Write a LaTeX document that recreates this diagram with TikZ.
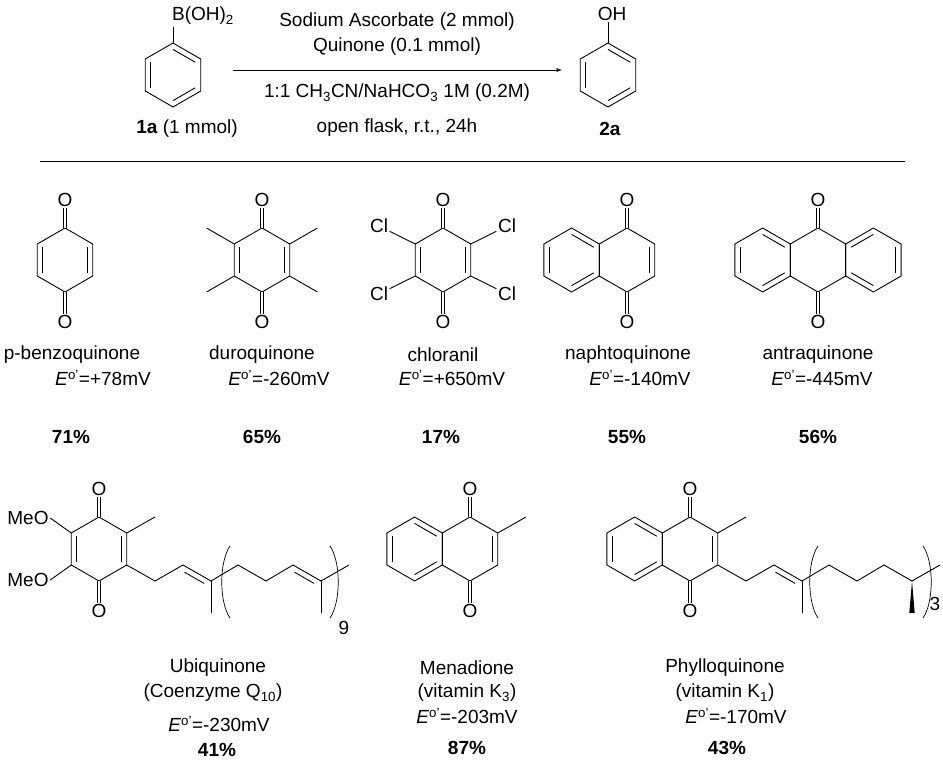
\documentclass[tikz,border=0pt]{standalone}
\usepackage{fontspec}
\setmainfont{Liberation Sans}
\usetikzlibrary{calc}
\newcommand{\Hx}[3]{\coordinate (#1c) at (#2,#3);
 \foreach \i/\a in {1/270,2/330,3/30,4/90,5/150,6/210} {\coordinate (#1\i) at ($(#1c)+(\a:32)$);}}
\newcommand{\HxDraw}[1]{\draw (#11)--(#12)--(#13)--(#14)--(#15)--(#16)--cycle;}
\newcommand{\Db}[3]{\draw ($(#1c)!0.8!(#1#2)$)--($(#1c)!0.8!(#1#3)$);}
\newcommand{\ChDb}[2]{\draw ($(#1)!0.15!(#2)!5.5pt!-90:(#2)$)--($(#2)!0.15!(#1)!5.5pt!90:(#1)$);}
\newcommand{\Eo}[1]{\textit{E}\textsuperscript{o'}=#1mV}
\begin{document}
\begin{tikzpicture}[x=1pt,y=-1pt,line width=0.9pt,
 txt/.style={font=\fontsize{19}{23}\selectfont,inner sep=0pt},
 atom/.style={font=\fontsize{19}{23}\selectfont,inner sep=1.2pt},
 dbl/.style={double,double distance=2.6pt},
 yld/.style={font=\fontsize{19}{23}\selectfont\bfseries,inner sep=0pt}]
\useasboundingbox (0,0) rectangle (943,761);
% ---- reaction
\Hx{P}{173}{75}\HxDraw{P}\Db{P}{1}{2}\Db{P}{3}{4}\Db{P}{5}{6}
\coordinate (Bb) at (173,27);
\draw (P1)--(Bb);
\node[txt] (B) at (203,16) {B(OH)\textsubscript{2}};
\node[txt] (l1a) at (187,129) {\textbf{1a} (1 mmol)};
\coordinate (a1) at (233,70); \coordinate (a2) at (562,70);
\draw[-{latex}] (a1)--(a2);
\node[txt] (c1) at (397,22) {Sodium Ascorbate (2 mmol)};
\node[txt] (c2) at (397,47) {Quinone (0.1 mmol)};
\node[txt] (c3) at (397,93) {1:1 CH\textsubscript{3}CN/NaHCO\textsubscript{3} 1M (0.2M)};
\node[txt] (c4) at (397,128) {open flask, r.t., 24h};
\Hx{Q}{608}{75}\HxDraw{Q}\Db{Q}{1}{2}\Db{Q}{3}{4}\Db{Q}{5}{6}
\node[atom] (OH) at (612,14) {OH};
\draw (Q1)--(OH.south -| Q1);
\node[txt] (l2a) at (610,129) {\textbf{2a}};
\coordinate (r1) at (40,161); \coordinate (r2) at (905,161);
\draw[line width=0.7pt] (r1)--(r2);
% ---- row 1
\Hx{A}{65}{260}\HxDraw{A}\Db{A}{2}{3}\Db{A}{5}{6}
\node[atom] (AO1) at (65,200) {O}; \node[atom] (AO2) at (65,322) {O};
\draw[dbl] (A1)--(AO1); \draw[dbl] (A4)--(AO2);
\Hx{D}{262}{260}\HxDraw{D}\Db{D}{2}{3}\Db{D}{5}{6}
\node[atom] (DO1) at (262,200) {O}; \node[atom] (DO2) at (262,322) {O};
\draw[dbl] (D1)--(DO1); \draw[dbl] (D4)--(DO2);
\foreach \i/\a in {2/330,3/30,5/150,6/210} {\coordinate (Dm\i) at ($(D\i)+(\a:32)$); \draw (D\i)--(Dm\i);}
\Hx{C}{443}{260}\HxDraw{C}\Db{C}{2}{3}\Db{C}{5}{6}
\node[atom] (CO1) at (443,200) {O}; \node[atom] (CO2) at (443,322) {O};
\draw[dbl] (C1)--(CO1); \draw[dbl] (C4)--(CO2);
\node[atom] (Cl2) at (507,226) {Cl}; \node[atom] (Cl3) at (507,294) {Cl};
\node[atom] (Cl5) at (379,294) {Cl}; \node[atom] (Cl6) at (379,226) {Cl};
\draw (C2)--(Cl2); \draw (C3)--(Cl3); \draw (C5)--(Cl5); \draw (C6)--(Cl6);
\Hx{N}{627}{260}\Hx{Nb}{571.6}{260}
\HxDraw{N}\HxDraw{Nb}\Db{N}{2}{3}\Db{Nb}{1}{2}\Db{Nb}{3}{4}\Db{Nb}{5}{6}
\node[atom] (NO1) at (627,200) {O}; \node[atom] (NO2) at (627,322) {O};
\draw[dbl] (N1)--(NO1); \draw[dbl] (N4)--(NO2);
\Hx{T}{818}{260}\Hx{Tl}{762.6}{260}\Hx{Tr}{873.4}{260}
\HxDraw{T}\HxDraw{Tl}\HxDraw{Tr}
\Db{Tl}{1}{2}\Db{Tl}{3}{4}\Db{Tl}{5}{6}\Db{Tr}{6}{1}\Db{Tr}{4}{5}\Db{Tr}{2}{3}
\node[atom] (TO1) at (818,200) {O}; \node[atom] (TO2) at (818,322) {O};
\draw[dbl] (T1)--(TO1); \draw[dbl] (T4)--(TO2);
% labels row 1
\node[txt] (n1) at (72,355) {p-benzoquinone};
\node[txt] (n2) at (262,355) {duroquinone};
\node[txt] (n3) at (443,355) {chloranil};
\node[txt] (n4) at (628,355) {naphtoquinone};
\node[txt] (n5) at (818,355) {antraquinone};
\node[txt] (e1) at (103,378) {\Eo{+78}};
\node[txt] (e2) at (279,378) {\Eo{-260}};
\node[txt] (e3) at (452,378) {\Eo{+650}};
\node[txt] (e4) at (640,378) {\Eo{-140}};
\node[txt] (e5) at (822,378) {\Eo{-445}};
\node[yld] (y1) at (71,437) {71\%};
\node[yld] (y2) at (262,437) {65\%};
\node[yld] (y3) at (441,437) {17\%};
\node[yld] (y4) at (627,437) {55\%};
\node[yld] (y5) at (818,437) {56\%};
% ---- row 2: ubiquinone
\Hx{U}{99}{549}\HxDraw{U}\Db{U}{2}{3}\Db{U}{5}{6}
\node[atom] (UO1) at (99,489) {O}; \node[atom] (UO2) at (99,611) {O};
\draw[dbl] (U1)--(UO1); \draw[dbl] (U4)--(UO2);
\node[atom] (M1) at (28,518) {MeO}; \node[atom] (M2) at (28,580) {MeO};
\draw (U6)--(M1.east); \draw (U5)--(M2.east);
\coordinate (Um) at (155,517); \draw (U2)--(Um);
\coordinate (u1) at (155,581); \coordinate (u2) at (183,565); \coordinate (u3) at (211,581);
\coordinate (u3m) at (211,613); \coordinate (u4) at (238,565); \coordinate (u5) at (266,581);
\coordinate (u6) at (293,565); \coordinate (u7) at (321,581); \coordinate (u7m) at (321,613);
\coordinate (u8) at (349,565);
\draw (U3)--(u1)--(u2)--(u3)--(u4)--(u5)--(u6)--(u7)--(u8);
\draw (u3)--(u3m); \draw (u7)--(u7m);
\ChDb{u2}{u3}\ChDb{u6}{u7}
\coordinate (up1) at (230,546); \coordinate (up2) at (230,618);
\draw[line width=0.7pt] (up1) .. controls (219,562) and (219,602) .. (up2);
\coordinate (up3) at (330,546); \coordinate (up4) at (330,618);
\draw[line width=0.7pt] (up3) .. controls (341,562) and (341,602) .. (up4);
\node[txt] (u9) at (344,628) {9};
\node[txt] (un) at (218,668) {Ubiquinone};
\node[txt] (uc) at (213,693) {(Coenzyme Q\textsubscript{10})};
\node[txt] (ue) at (219,724) {\Eo{-230}};
\node[yld] (uy) at (217,750) {41\%};
% menadione
\Hx{K}{470}{549}\Hx{Kb}{414.6}{549}
\HxDraw{K}\HxDraw{Kb}\Db{K}{2}{3}\Db{Kb}{1}{2}\Db{Kb}{3}{4}\Db{Kb}{5}{6}
\node[atom] (KO1) at (470,489) {O}; \node[atom] (KO2) at (470,611) {O};
\draw[dbl] (K1)--(KO1); \draw[dbl] (K4)--(KO2);
\coordinate (Km) at (526,517); \draw (K2)--(Km);
\node[txt] (kn) at (467,668) {Menadione};
\node[txt] (kc) at (467,693) {(vitamin K\textsubscript{3})};
\node[txt] (ke) at (467,716) {\Eo{-203}};
\node[yld] (ky) at (467,748) {87\%};
% phylloquinone
\Hx{F}{690}{549}\Hx{Fb}{634.6}{549}
\HxDraw{F}\HxDraw{Fb}\Db{F}{2}{3}\Db{Fb}{1}{2}\Db{Fb}{3}{4}\Db{Fb}{5}{6}
\node[atom] (FO1) at (690,489) {O}; \node[atom] (FO2) at (690,611) {O};
\draw[dbl] (F1)--(FO1); \draw[dbl] (F4)--(FO2);
\coordinate (Fm) at (746,517); \draw (F2)--(Fm);
\coordinate (f1) at (746,581); \coordinate (f2) at (774,565); \coordinate (f3) at (802,581);
\coordinate (f3m) at (802,613); \coordinate (f4) at (829,565); \coordinate (f5) at (857,581);
\coordinate (f6) at (884,565); \coordinate (f7) at (912,581); \coordinate (f8) at (940,565);
\draw (F3)--(f1)--(f2)--(f3)--(f4)--(f5)--(f6)--(f7)--(f8);
\draw (f3)--(f3m); \ChDb{f2}{f3}
\coordinate (fw1) at (909.3,613); \coordinate (fw2) at (914.7,613);
\fill (f7)--(fw1)--(fw2)--cycle;
\coordinate (fp1) at (818,546); \coordinate (fp2) at (818,618);
\draw[line width=0.7pt] (fp1) .. controls (807,562) and (807,602) .. (fp2);
\coordinate (fp3) at (923,546); \coordinate (fp4) at (923,618);
\draw[line width=0.7pt] (fp3) .. controls (934,562) and (934,602) .. (fp4);
\node[txt] (f9) at (935,604) {3};
\node[txt] (fn) at (725,668) {Phylloquinone};
\node[txt] (fc) at (725,693) {(vitamin K\textsubscript{1})};
\node[txt] (fe) at (736,716) {\Eo{-170}};
\node[yld] (fy) at (727,748) {43\%};
\end{tikzpicture}
\end{document}
